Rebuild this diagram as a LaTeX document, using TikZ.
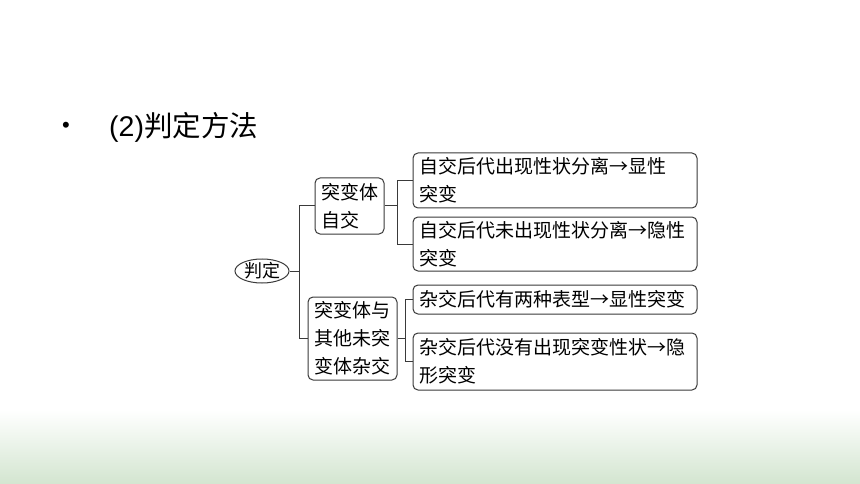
\documentclass[tikz,border=0pt]{standalone}
\usepackage{fontspec}
\newfontfamily\cjk{Noto Sans CJK SC}
\newfontfamily\latinsans{Liberation Sans}
\usetikzlibrary{positioning, shapes.geometric}
\definecolor{lineGray}{HTML}{3A3A3A}
\definecolor{floorGreen}{HTML}{D3E5D0}
\tikzset{%
	every box/.style={
		draw=lineGray,
		line width=1pt,
		rounded corners=5pt,
		inner xsep=6pt,
		inner ysep=0pt,
		align=left,
		font=\cjk\fontsize{19}{28}\selectfont
	},
	root node/.style={
		ellipse,
		draw=lineGray,
		line width=1pt,
		minimum width=54pt,
		minimum height=24pt,
		inner sep=0pt,
		font=\cjk\fontsize{18}{22}\selectfont
	},
	branch/.style={
		draw=lineGray,
		line width=1pt
	},
}
\begin{document}
\begin{tikzpicture}[x=1pt, y=-1pt]

			% page and the green floor
			\fill[white] (0,0) rectangle (860,484);
			\shade[top color=white, bottom color=floorGreen] (0,410) rectangle (860,484);
			\useasboundingbox (0,0) rectangle (860,484);

			\node[font=\latinsans\fontsize{22}{26}\selectfont, inner sep=0pt] (bullet) at (66,127) {•};
			\node[anchor=west, inner sep=0pt, font=\cjk\fontsize{28.5}{32}\selectfont] (title) at (109,127) {{\latinsans (2)}判定方法};

			\node[root node] (root) at (262,271) {判定};

			\node[every box, text width=57pt, minimum height=56pt] (selfcross) at (349.5,206) {突变体\\自交};
			\node[every box, text width=77pt, minimum height=83pt] (outcross) at (352.5,338.5) {突变体与\\其他未突\\变体杂交};

			\node[every box, text width=272pt, minimum height=55pt] (dominantA) at (555,180.5) {自交后代出现性状分离→显性\\突变};
			\node[every box, text width=272pt, minimum height=54pt] (recessiveA) at (555,244) {自交后代未出现性状分离→隐性\\突变};
			\node[every box, text width=272pt, minimum height=29pt] (dominantB) at (555,299.5) {杂交后代有两种表型→显性突变};
			\node[every box, text width=272pt, minimum height=57pt] (recessiveB) at (555,361.5) {杂交后代没有出现突变性状→隐\\形突变};

			\draw[branch] (root.east) -- ++(10,0) coordinate (rootfork);
			\draw[branch] (rootfork) |- (selfcross.west);
			\draw[branch] (rootfork) |- (outcross.west);

			\draw[branch] (selfcross.east) -- ++(13,0) coordinate (selffork);
			\draw[branch] (selffork) |- (dominantA.west);
			\draw[branch] (selffork) |- (recessiveA.west);

			\draw[branch] (outcross.east) -- ++(8,0) coordinate (outfork);
			\draw[branch] (outfork) |- (dominantB.west);
			\draw[branch] (outfork) |- (recessiveB.west);

\end{tikzpicture}
\end{document}
